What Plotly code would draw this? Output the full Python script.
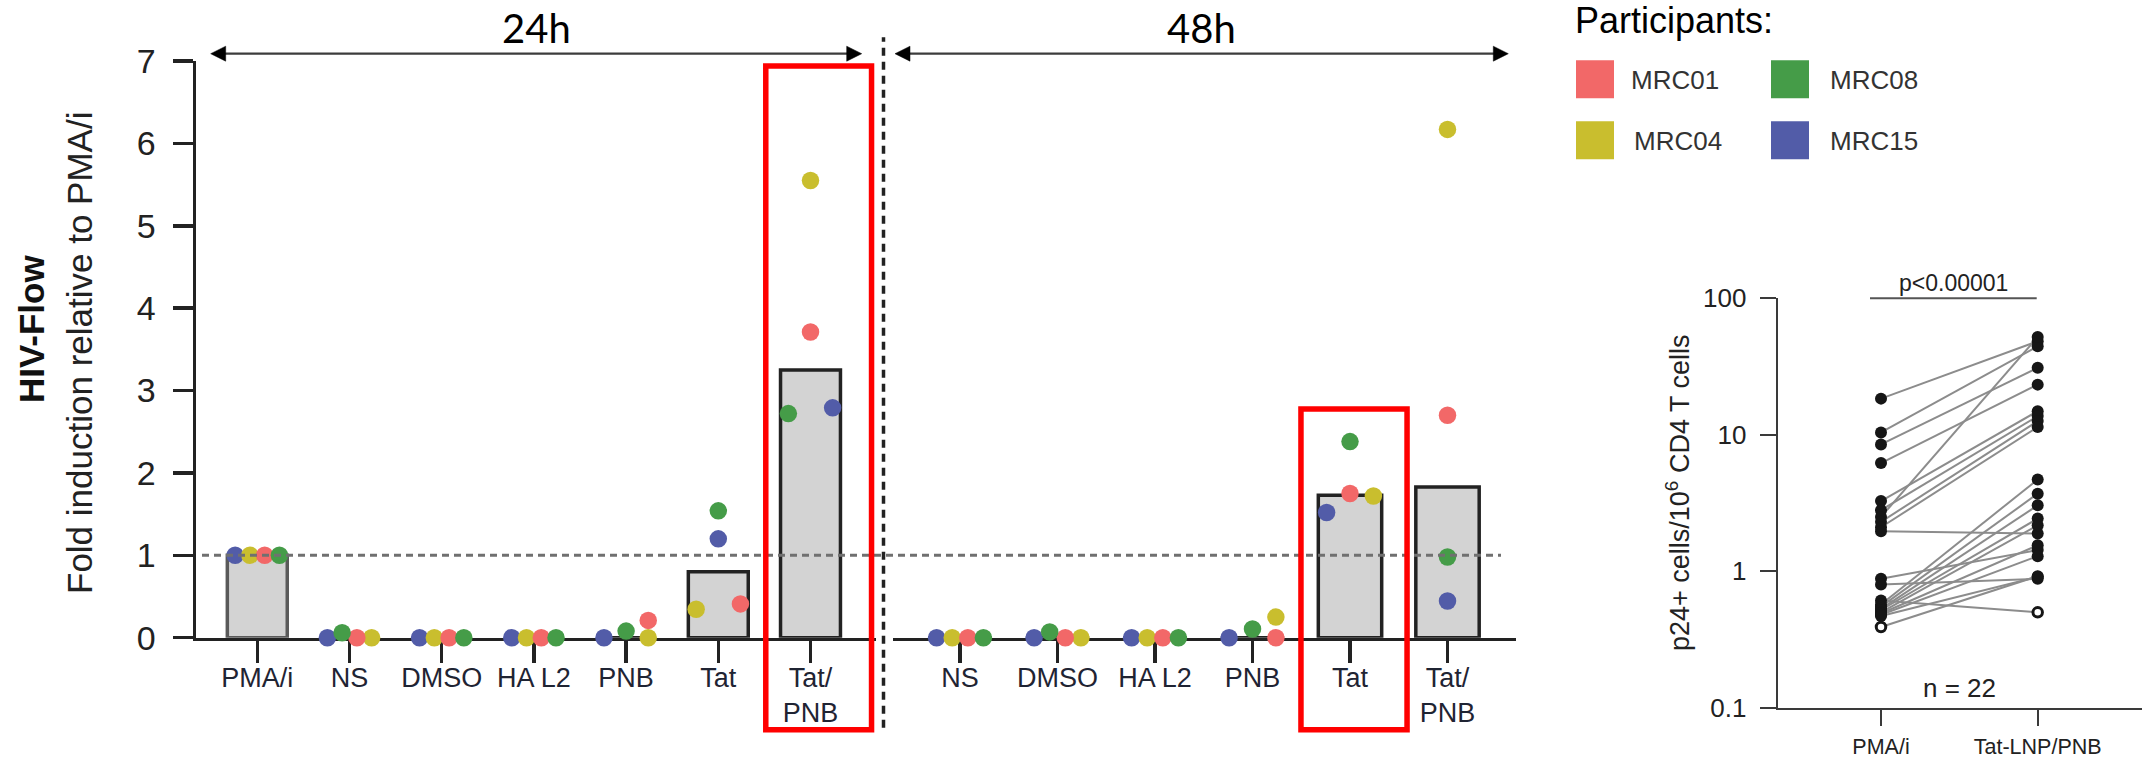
import plotly.graph_objects as go

W, H = 2152, 759

# ---------------- data ----------------
CATEGORIES_24H = ["PMA/i", "NS", "DMSO", "HA L2", "PNB", "Tat", "Tat/PNB"]
CATEGORIES_48H = ["NS", "DMSO", "HA L2", "PNB", "Tat", "Tat/PNB"]
TICK_LABELS_24H = ["PMA/i", "NS", "DMSO", "HA L2", "PNB", "Tat", "Tat/<br>PNB"]
TICK_LABELS_48H = ["NS", "DMSO", "HA L2", "PNB", "Tat", "Tat/<br>PNB"]
PARTICIPANTS = ["MRC15", "MRC04", "MRC01", "MRC08"]  # drawing order

MRC01_24H = [1.0, 0.0, 0.0, 0.0, 0.21, 0.41, 3.71]
MRC04_24H = [1.0, 0.0, 0.0, 0.0, 0.0, 0.345, 5.55]
MRC08_24H = [1.0, 0.06, 0.0, 0.0, 0.08, 1.54, 2.72]
MRC15_24H = [1.0, 0.0, 0.0, 0.0, 0.0, 1.20, 2.79]
BAR_24H = [1.0, 0.0, 0.0, 0.0, 0.0, 0.80, 3.25]

MRC01_48H = [0.0, 0.0, 0.0, 0.0, 1.75, 2.70]
MRC04_48H = [0.0, 0.0, 0.0, 0.25, 1.72, 6.17]
MRC08_48H = [0.0, 0.07, 0.0, 0.105, 2.38, 0.98]
MRC15_48H = [0.0, 0.0, 0.0, 0.0, 1.52, 0.445]
BAR_48H = [0.0, 0.0, 0.0, 0.0, 1.73, 1.83]

VALUES_24H = {"MRC01": MRC01_24H, "MRC04": MRC04_24H, "MRC08": MRC08_24H, "MRC15": MRC15_24H}
VALUES_48H = {"MRC01": MRC01_48H, "MRC04": MRC04_48H, "MRC08": MRC08_48H, "MRC15": MRC15_48H}

PAIR_GROUPS = ["PMA/i", "Tat-LNP/PNB"]
PMA_I_P24 = [18.4, 10.4, 8.5, 6.2, 3.27, 2.8, 2.5, 2.3, 2.1, 1.96,
             0.88, 0.80, 0.61, 0.57, 0.55, 0.53, 0.52, 0.50, 0.49, 0.48, 0.47, 0.39]
TAT_LNP_PNB_P24 = [48.4, 44.5, 31.0, 23.3, 14.9, 13.7, 52.0, 12.6, 11.4, 1.89,
                   1.43, 0.88, 0.50, 4.7, 3.7, 3.04, 2.43, 2.17, 1.55, 1.29, 0.91, 0.92]
PMA_I_OPEN = [0] * 21 + [1]
TAT_OPEN = [0] * 12 + [1] + [0] * 9
N_LABEL = "n = 22"
P_LABEL = "p<0.00001"

# ---------------- styles / layout constants ----------------
COLORS = {"MRC01": "#F26868", "MRC04": "#C9BE2E", "MRC08": "#459C48", "MRC15": "#525CA8"}
SLOT_24H = {
    "MRC01": [0.5, 0.5, 0.5, 0.5, 1.5, 1.5, 0],
    "MRC04": [-0.5, 1.5, -0.5, -0.5, 1.5, -1.5, 0],
    "MRC08": [1.5, -0.5, 1.5, 1.5, 0, 0, -1.5],
    "MRC15": [-1.5, -1.5, -1.5, -1.5, -1.5, 0, 1.5],
}
SLOT_48H = {
    "MRC01": [0.5, 0.5, 0.5, 1.5, 0, 0],
    "MRC04": [-0.5, 1.5, -0.5, 1.5, 1.5, 0],
    "MRC08": [1.5, -0.5, 1.5, 0, 0, 0],
    "MRC15": [-1.5, -1.5, -1.5, -1.5, -1.5, 0],
}
SLOT_W = 0.16
FONT = "Liberation Sans, Arial, sans-serif"
INK = "#222222"


def px(x):
    return x / W


def py(y):
    return 1 - y / H


# pixel geometry
A24 = dict(left=196.0, right=876.0, first=257.3, step=92.2)
A48 = dict(left=893.3, right=1516.0, first=960.0, step=97.5)
AR = dict(left=1777.7, right=2141.7, first=1881.0, step=156.7)
Y0_PX, Y7_PX = 637.7, 61.0
YR_BOT, YR_TOP = 707.7, 298.3


def xrange_of(a):
    return [(a["left"] - a["first"]) / a["step"], (a["right"] - a["first"]) / a["step"]]


def xunit(a, pxv):
    return (pxv - a["first"]) / a["step"]


fig = go.Figure()

# bars
fig.add_trace(go.Bar(
    x=list(range(len(CATEGORIES_24H))), y=BAR_24H, width=0.65,
    marker=dict(color="#D3D3D3",
                line=dict(color=["#5a5a5a"] + [INK] * 6, width=3.5)),
    xaxis="x", yaxis="y", showlegend=False, hoverinfo="skip"))
fig.add_trace(go.Bar(
    x=list(range(len(CATEGORIES_48H))), y=BAR_48H, width=0.65,
    marker=dict(color="#D3D3D3", line=dict(color=INK, width=3.5)),
    xaxis="x2", yaxis="y", showlegend=False, hoverinfo="skip"))

# participant dots
for p in PARTICIPANTS:
    fig.add_trace(go.Scatter(
        x=[i + s * SLOT_W for i, s in enumerate(SLOT_24H[p])], y=VALUES_24H[p],
        mode="markers", marker=dict(size=17.5, color=COLORS[p], line=dict(width=0)),
        cliponaxis=False, xaxis="x", yaxis="y", showlegend=False, name=p))
    fig.add_trace(go.Scatter(
        x=[i + s * SLOT_W for i, s in enumerate(SLOT_48H[p])], y=VALUES_48H[p],
        mode="markers", marker=dict(size=17.5, color=COLORS[p], line=dict(width=0)),
        cliponaxis=False, xaxis="x2", yaxis="y", showlegend=False, name=p))

# paired panel
lx, ly = [], []
for a, b in zip(PMA_I_P24, TAT_LNP_PNB_P24):
    lx += [0, 1, None]
    ly += [a, b, None]
fig.add_trace(go.Scatter(x=lx, y=ly, mode="lines", line=dict(color="#8c8c8c", width=2),
                         xaxis="x3", yaxis="y3", showlegend=False, hoverinfo="skip"))
for gi, (vals, opens) in enumerate([(PMA_I_P24, PMA_I_OPEN), (TAT_LNP_PNB_P24, TAT_OPEN)]):
    filled = [v for v, o in zip(vals, opens) if not o]
    hollow = [v for v, o in zip(vals, opens) if o]
    fig.add_trace(go.Scatter(x=[gi] * len(filled), y=filled, mode="markers",
                             marker=dict(size=12, color="#161616", line=dict(width=0)),
                             cliponaxis=False, xaxis="x3", yaxis="y3", showlegend=False))
    fig.add_trace(go.Scatter(x=[gi] * len(hollow), y=hollow, mode="markers",
                             marker=dict(size=9.5, color="white", line=dict(width=3, color="#161616")),
                             cliponaxis=False, xaxis="x3", yaxis="y3", showlegend=False))

axis_common = dict(showline=True, linecolor=INK, linewidth=3.5, ticks="outside",
                   tickcolor=INK, tickwidth=3.5, showgrid=False, zeroline=False,
                   layer="below traces", fixedrange=True, automargin=False)

fig.update_layout(
    width=W, height=H, autosize=False,
    margin=dict(l=0, r=0, t=0, b=0, pad=0),
    paper_bgcolor="white", plot_bgcolor="white",
    bargap=0, showlegend=False,
    font=dict(family=FONT, color=INK),
    xaxis=dict(axis_common, domain=[px(A24["left"]), px(A24["right"])], range=xrange_of(A24),
               anchor="y", tickmode="array", tickvals=list(range(7)), ticktext=TICK_LABELS_24H,
               ticklen=22, tickfont=dict(size=27, color="#1f2433"), ticklabelstandoff=-9),
    xaxis2=dict(axis_common, domain=[px(A48["left"]), px(A48["right"])], range=xrange_of(A48),
                anchor="y", tickmode="array", tickvals=list(range(6)), ticktext=TICK_LABELS_48H,
                ticklen=22, tickfont=dict(size=27, color="#1f2433"), ticklabelstandoff=-9),
    yaxis=dict(axis_common, domain=[py(Y0_PX), py(Y7_PX)], range=[0, 7], anchor="x",
               tickmode="array", tickvals=list(range(8)), ticklen=20,
               tickfont=dict(size=34, color=INK), ticklabelstandoff=10),
    xaxis3=dict(showline=True, linecolor="#3a3a3a", linewidth=2, ticks="outside", tickcolor="#3a3a3a",
                tickwidth=2, ticklen=16, showgrid=False, zeroline=False, layer="below traces",
                automargin=False, fixedrange=True,
                domain=[px(AR["left"]), px(AR["right"])], range=xrange_of(AR), anchor="y3",
                tickmode="array", tickvals=[0, 1], ticktext=PAIR_GROUPS,
                tickfont=dict(size=21.5, color=INK), ticklabelstandoff=2),
    yaxis3=dict(type="log", showline=True, linecolor="#3a3a3a", linewidth=2, ticks="outside",
                tickcolor="#3a3a3a", tickwidth=2, ticklen=16, showgrid=False, zeroline=False,
                layer="below traces", automargin=False, fixedrange=True,
                domain=[py(YR_BOT), py(YR_TOP)], range=[-1, 2], anchor="x3",
                tickmode="array", tickvals=[0.1, 1, 10, 100], ticktext=["0.1", "1", "10", "100"],
                tickfont=dict(size=26, color=INK), ticklabelstandoff=8),
)

shapes = []
annotations = []

# dashed reference line at y = 1
shapes.append(dict(type="line", xref="paper", yref="y", x0=px(A24["left"] + 6), x1=px(1501),
                   y0=1, y1=1, line=dict(color="#707070", width=3, dash="7px,5px"), layer="above"))
# vertical separator
shapes.append(dict(type="line", xref="paper", yref="paper", x0=px(883.5), x1=px(883.5),
                   y0=py(727.7), y1=py(37.3), line=dict(color=INK, width=3.5, dash="8px,6px")))
# red highlight boxes
shapes.append(dict(type="rect", xref="x", yref="paper",
                   x0=CATEGORIES_24H.index("Tat/PNB") - 0.485, x1=CATEGORIES_24H.index("Tat/PNB") + 0.662,
                   y0=py(729.7), y1=py(66), line=dict(color="#FF0000", width=5.5), layer="above"))
shapes.append(dict(type="rect", xref="x2", yref="paper",
                   x0=CATEGORIES_48H.index("Tat") - 0.503, x1=CATEGORIES_48H.index("Tat") + 0.585,
                   y0=py(729.7), y1=py(409), line=dict(color="#FF0000", width=5.5), layer="above"))
# p-value bracket
shapes.append(dict(type="line", xref="x3", yref="y3 domain", x0=xunit(AR, 1870), x1=xunit(AR, 2036.7),
                   y0=1, y1=1, line=dict(color="#555555", width=2)))

# time-window double arrows (line + two triangular heads) and labels
ARROW_Y = 53.7
HEAD_L, HEAD_HALF = 15.0, 7.5
for axname, a, x0p, x1p, label in [("x", A24, 210.7, 861.7, "24h"), ("x2", A48, 895.0, 1508.3, "48h")]:
    u0, u1 = xunit(a, x0p), xunit(a, x1p)
    hl = HEAD_L / a["step"]
    yc, dy = py(ARROW_Y), HEAD_HALF / H
    shapes.append(dict(type="line", xref=axname, yref="paper", x0=u0 + hl * 0.8, x1=u1 - hl * 0.8,
                       y0=yc, y1=yc, line=dict(color="#3c3c3c", width=2.2)))
    for tip, base in [(u0, u0 + hl), (u1, u1 - hl)]:
        shapes.append(dict(type="path", xref=axname, yref="paper",
                           path=f"M {tip},{yc} L {base},{yc + dy} L {base},{yc - dy} Z",
                           fillcolor="black", line=dict(color="black", width=0.5)))
    annotations.append(dict(xref=axname, yref="paper", x=(u0 + u1) / 2, y=py(28), text=label,
                            showarrow=False, xanchor="center", yanchor="middle",
                            font=dict(family="Lato, Open Sans, sans-serif", size=40, color="black")))

# y titles
annotations.append(dict(xref="paper", yref="paper", x=px(31.5), y=py(328.6), text="<b>HIV-Flow</b>",
                        textangle=-90, showarrow=False, xanchor="center", yanchor="middle",
                        font=dict(size=35, color="#111111")))
annotations.append(dict(xref="paper", yref="paper", x=px(79), y=py(353), text="Fold induction relative to PMA/i",
                        textangle=-90, showarrow=False, xanchor="center", yanchor="middle",
                        font=dict(size=35, color=INK)))
annotations.append(dict(xref="paper", yref="paper", x=px(1678), y=py(493),
                        text="p24+ cells/10<sup>6</sup> CD4 T cells",
                        textangle=-90, showarrow=False, xanchor="center", yanchor="middle",
                        font=dict(size=27, color=INK)))
annotations.append(dict(xref="paper", yref="paper", x=px(1953.7), y=py(283.3), text=P_LABEL,
                        showarrow=False, xanchor="center", yanchor="middle", font=dict(size=23, color=INK)))
annotations.append(dict(xref="paper", yref="paper", x=px(1959.7), y=py(688.3), text=N_LABEL,
                        showarrow=False, xanchor="center", yanchor="middle", font=dict(size=26, color=INK)))

# legend
annotations.append(dict(xref="paper", yref="paper", x=px(1673.6), y=py(21), text="Participants:",
                        showarrow=False, xanchor="center", yanchor="middle", font=dict(size=36, color="black")))
LEGEND_POS = {"MRC01": (1595, 79.3, 1629), "MRC08": (1790, 79.3, 1827.6),
              "MRC04": (1595, 140.3, 1632), "MRC15": (1790, 140.3, 1827.6)}
for p, (cx, cy, tx) in LEGEND_POS.items():
    shapes.append(dict(type="rect", xref="paper", yref="paper", x0=px(cx - 19), x1=px(cx + 19),
                       y0=py(cy + 19), y1=py(cy - 19), fillcolor=COLORS[p], line=dict(width=0)))
    annotations.append(dict(xref="paper", yref="paper", x=px(tx), y=py(cy + 1), text=p, showarrow=False,
                            xanchor="left", yanchor="middle", font=dict(size=26, color="#333333")))

fig.update_layout(shapes=shapes, annotations=annotations)
fig.write_html("out.html", config={"displayModeBar": False, "staticPlot": True},
               post_script="document.body.style.margin='0px';document.body.style.overflow='hidden';")
